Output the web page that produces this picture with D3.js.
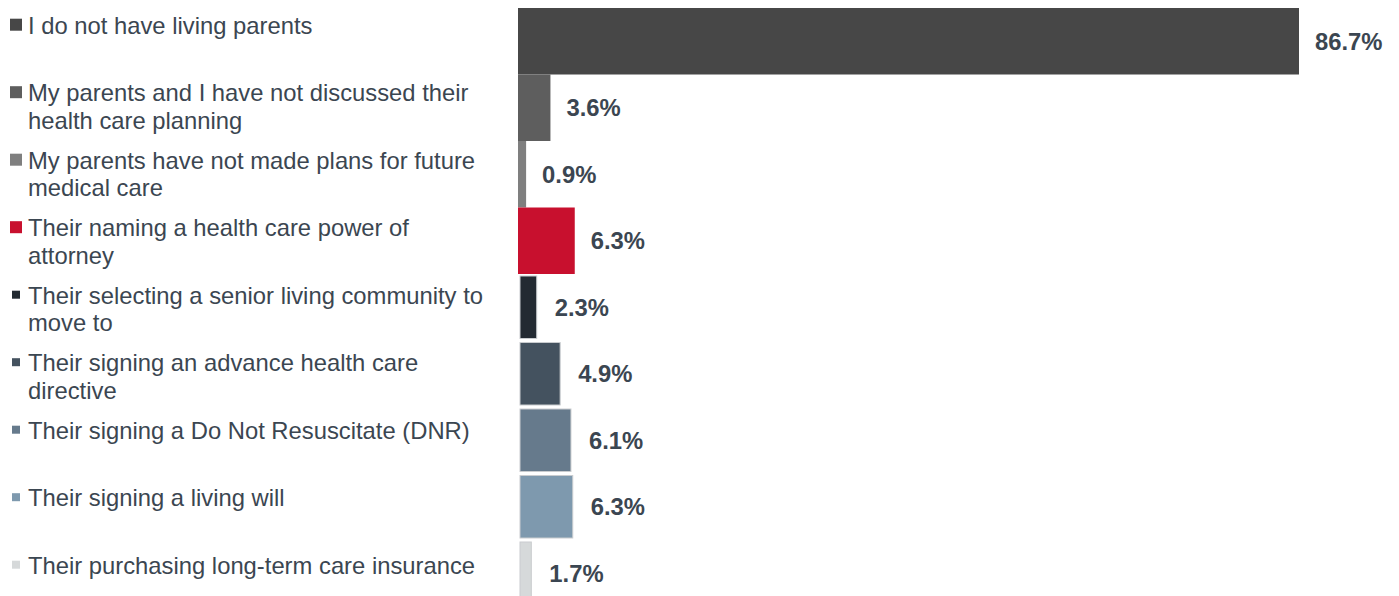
<!DOCTYPE html>
<html>
<head>
<meta charset="utf-8">
<script src="https://cdn.jsdelivr.net/npm/d3@7"></script>
<style>
  html, body { margin: 0; padding: 0; background: #fff; }
  svg { display: block; }
</style>
</head>
<body>
<svg id="chart" width="1399" height="596"></svg>
<script>
const categories = [
  "I do not have living parents",
  "My parents and I have not discussed their health care planning",
  "My parents have not made plans for future medical care",
  "Their naming a health care power of attorney",
  "Their selecting a senior living community to move to",
  "Their signing an advance health care directive",
  "Their signing a Do Not Resuscitate (DNR)",
  "Their signing a living will",
  "Their purchasing long-term care insurance"
];
const legendLines = [
  ["I do not have living parents"],
  ["My parents and I have not discussed their", "health care planning"],
  ["My parents have not made plans for future", "medical care"],
  ["Their naming a health care power of", "attorney"],
  ["Their selecting a senior living community to", "move to"],
  ["Their signing an advance health care", "directive"],
  ["Their signing a Do Not Resuscitate (DNR)"],
  ["Their signing a living will"],
  ["Their purchasing long-term care insurance"]
];
const values = [86.7, 3.6, 0.9, 6.3, 2.3, 4.9, 6.1, 6.3, 1.7];
const colors = ["#474747", "#5e5e5e", "#7f7f7f", "#c8102e", "#232a32", "#44525f", "#667a8c", "#7e99ae", "#d6d9da"];
const outlined = [false, false, false, false, true, true, true, true, true];

const textColor = "#3b4651";
const svg = d3.select("#chart");

const x = d3.scaleLinear().domain([0, 100]).range([518, 1418.8]);
const y = d3.scaleBand().domain(categories).range([8, 606.5]).padding(0);

const data = categories.map((c, i) => ({ c, v: values[i], color: colors[i], outlined: outlined[i], lines: legendLines[i], i }));

// bars
svg.append("g").selectAll("rect").data(data).join("rect")
  .attr("x", d => d.outlined ? x(0) + 2 : x(0))
  .attr("y", d => d.outlined ? y(d.c) + 2 : y(d.c))
  .attr("width", d => d.outlined ? Math.max(0, x(d.v) - x(0) - 4) : x(d.v) - x(0))
  .attr("height", d => d.outlined ? y.bandwidth() - 4 : y.bandwidth())
  .attr("fill", d => d.color)
  .attr("stroke", d => d.outlined ? "#c9cccf" : "none")
  .attr("stroke-width", 1);

// value labels
svg.append("g").selectAll("text").data(data).join("text")
  .attr("x", d => x(d.v) + 16)
  .attr("y", d => y(d.c) + y.bandwidth() / 2)
  .attr("dy", "0.35em")
  .attr("font-family", "Liberation Sans, Arial, sans-serif")
  .attr("font-weight", "bold")
  .attr("font-size", 23.8)
  .attr("fill", textColor)
  .text(d => d.v.toFixed(1) + "%");

// legend
const ly = d3.scaleLinear().domain([0, categories.length - 1]).range([33.7, 573.7]);
const lg = svg.append("g");
const items = lg.selectAll("g").data(data).join("g");
items.append("rect")
  .attr("x", d => d.outlined ? 12 : 10)
  .attr("y", d => d.outlined ? ly(d.i) - 13 : ly(d.i) - 15)
  .attr("width", d => d.outlined ? 8 : 12)
  .attr("height", d => d.outlined ? 8 : 12)
  .attr("fill", d => d.color);
items.append("text")
  .attr("font-family", "Liberation Sans, Arial, sans-serif")
  .attr("font-size", 23.8)
  .attr("fill", textColor)
  .selectAll("tspan").data(d => d.lines.map((l, k) => ({ l, k, i: d.i }))).join("tspan")
  .attr("x", 28)
  .attr("y", t => ly(t.i) + t.k * 27.3)
  .text(t => t.l);
</script>
</body>
</html>
